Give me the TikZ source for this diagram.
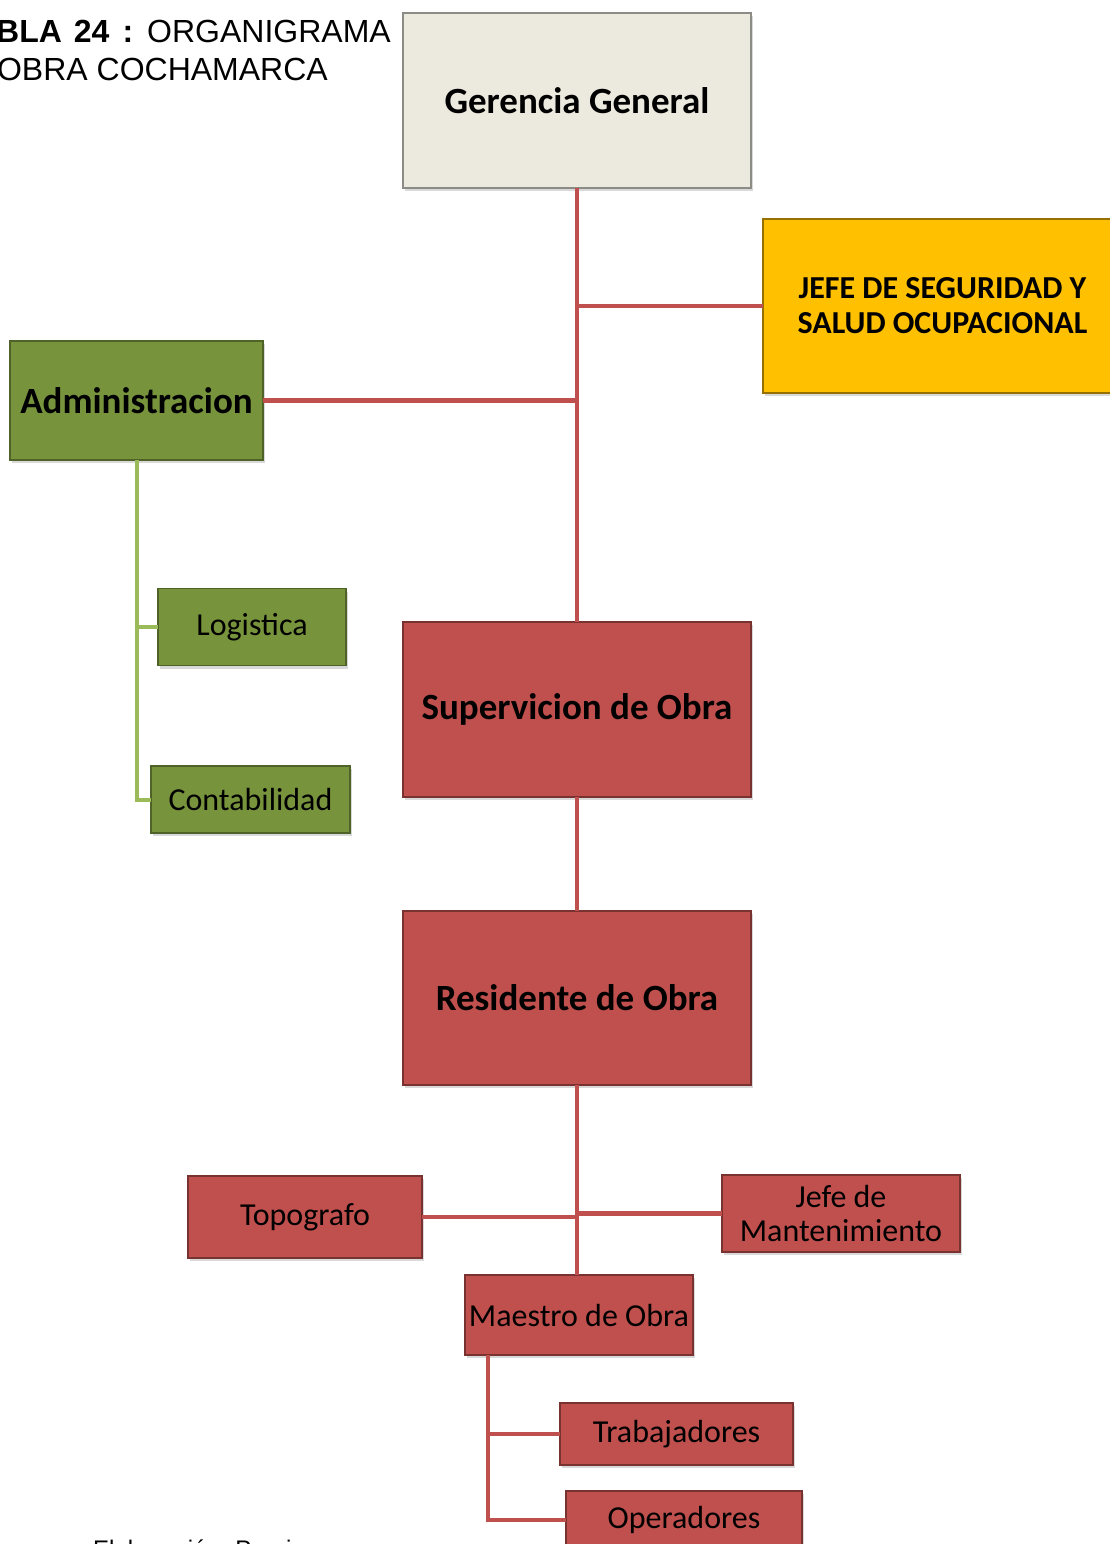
\documentclass[tikz,border=0pt]{standalone}
\usepackage{fontspec}
\setmainfont{Carlito}
\newfontfamily\arialfont{Liberation Sans}
\usetikzlibrary{shadows}
\definecolor{gerfill}{RGB}{236,233,223}
\definecolor{gerborde}{RGB}{140,140,135}
\definecolor{jefefill}{RGB}{255,192,0}
\definecolor{jefeborde}{RGB}{150,112,0}
\definecolor{verde}{RGB}{119,147,60}
\definecolor{verdeborde}{RGB}{79,98,40}
\definecolor{verdelinea}{RGB}{155,187,89}
\definecolor{rojo}{RGB}{192,80,77}
\definecolor{rojoborde}{RGB}{120,50,48}
\tikzset{
  caja/.style={draw, line width=1.2pt, inner sep=0pt, outer sep=0pt, align=center,
    drop shadow={opacity=0.3, shadow xshift=2pt, shadow yshift=-3pt}},
  cajagris/.style={caja, fill=gerfill, draw=gerborde},
  cajaamarilla/.style={caja, fill=jefefill, draw=jefeborde},
  cajaverde/.style={caja, fill=verde, draw=verdeborde},
  cajaroja/.style={caja, fill=rojo, draw=rojoborde},
  lineroja/.style={draw=rojo, line width=4.5pt},
  lineaverde/.style={draw=verdelinea, line width=4pt},
}
\newcommand{\grande}{\fontsize{37}{42}\selectfont\bfseries}
\newcommand{\mediano}{\fontsize{32}{35}\selectfont\bfseries}
\newcommand{\normal}{\fontsize{32}{34}\selectfont}
\begin{document}
\begin{tikzpicture}[x=1pt, y=-1pt] % {{{
\useasboundingbox (0,0) rectangle (1110,1544);
% Titulo {{{
\node[anchor=base east, inner sep=0pt] (titulo1) at (391,43)
  {\arialfont\fontsize{32}{35}\selectfont{\bfseries TABLA\hspace{12pt}24\hspace{13pt}:}\hspace{14pt}ORGANIGRAMA};
\node[anchor=base east, inner sep=0pt] (titulo2) at (328,81)
  {\arialfont\fontsize{32}{35}\selectfont OBRA COCHAMARCA};
\node[anchor=base west, inner sep=0pt] (fuente) at (93,1557)
  {\arialfont\fontsize{24}{28}\selectfont Elaboración: Propia};
% }}}
% Cajas {{{
\node[cajagris, minimum width=348, minimum height=175, font=\grande] (ger) at (577,100.5) {Gerencia General};
\node[cajaamarilla, minimum width=359, minimum height=174, font=\mediano] (jefe) at (942.5,306)
  {JEFE DE SEGURIDAD Y\\SALUD OCUPACIONAL};
\node[cajaverde, minimum width=253, minimum height=119, font=\grande] (adm) at (136.5,400.5) {Administracion};
\node[cajaverde, minimum width=188, minimum height=77, font=\normal] (log) at (252,627) {Logistica};
\node[cajaverde, minimum width=199, minimum height=67, font=\normal] (con) at (250.5,799.5) {Contabilidad};
\node[cajaroja, minimum width=348, minimum height=175, font=\grande] (sup) at (577,709.5) {Supervicion de Obra};
\node[cajaroja, minimum width=348, minimum height=174, font=\grande] (res) at (577,998) {Residente de Obra};
\node[cajaroja, minimum width=234, minimum height=82, font=\normal] (top) at (305,1217) {Topografo};
\node[cajaroja, minimum width=238, minimum height=77, font=\normal] (man) at (841,1213.5)
  {Jefe de\\Mantenimiento};
\node[cajaroja, minimum width=228, minimum height=80, font=\normal] (mae) at (579,1315) {Maestro de Obra};
\node[cajaroja, minimum width=233, minimum height=62, font=\normal] (tra) at (676.5,1434) {Trabajadores};
\node[cajaroja, minimum width=236, minimum height=58, font=\normal] (ope) at (684,1520) {Operadores};
% }}}
% Conectores {{{
\draw[lineroja] (ger.south) -- (sup.north);
\draw[lineroja] (jefe.west) -- (jefe.west -| ger.south);
\draw[lineroja] (adm.east) -- (adm.east -| ger.south);
\draw[lineroja] (sup.south) -- (res.north);
\draw[lineroja] (res.south) -- (res.south |- mae.north);
\draw[lineroja] (top.east) -- (top.east -| res.south);
\draw[lineroja] (man.west) -- (man.west -| res.south);
\coordinate (maepie) at (488,1355);
\draw[lineroja] (maepie) |- (tra.west);
\draw[lineroja] (maepie) |- (ope.west);
\draw[lineaverde] (adm.south) |- (log.west);
\draw[lineaverde] (adm.south) |- (con.west);
% }}}
\end{tikzpicture} % }}}
\end{document}
